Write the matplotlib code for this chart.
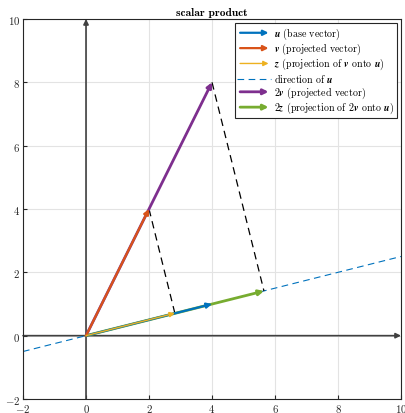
import matplotlib.pyplot as plt
from matplotlib.patches import FancyArrowPatch
from matplotlib.lines import Line2D
from matplotlib.legend_handler import HandlerPatch

plt.rcParams['mathtext.fontset'] = 'cm'
plt.rcParams['font.family'] = 'serif'
plt.rcParams['font.serif'] = ['cmr10']
plt.rcParams['axes.formatter.use_mathtext'] = True
plt.rcParams['axes.unicode_minus'] = False

# vectors
u = [4, 1]
v = [2, 4]
z = [2.82, 0.71]
v2 = [4, 8]
z2 = [5.65, 1.41]
dir_x = [-2, 10]
dir_y = [-0.5, 2.5]
ticks = [-2, 0, 2, 4, 6, 8, 10]

c_blue = '#0072BD'
c_orange = '#D95319'
c_yellow = '#EDB120'
c_purple = '#7E2F8E'
c_green = '#77AC30'
c_axis = '#262626'

fig = plt.figure(figsize=(4.06, 4.14), dpi=100)
ax = fig.add_axes([0.0567, 0.0338, 0.931, 0.918])


def arrow(tip, color, lw, ms=6, start=(0, 0), z_order=3):
    ax.annotate('', xy=tip, xytext=start,
                arrowprops=dict(arrowstyle='-|>,head_length=0.5,head_width=0.25',
                                color=color, lw=lw,
                                mutation_scale=ms, shrinkA=0, shrinkB=0),
                zorder=z_order)


# coordinate axes with arrow heads
arrow((10, 0), '#404040', 1.2, ms=6, start=(-2, 0), z_order=2)
arrow((0, 10), '#404040', 1.2, ms=6, start=(0, -2), z_order=2)

# direction of u
ax.plot(dir_x, dir_y, color=c_blue, lw=0.8, ls=(0, (6, 4)), zorder=2.5)

# projection lines
ax.plot([v[0], z[0]], [v[1], z[1]], color='k', lw=0.9, ls=(0, (6, 4)), zorder=2.5)
ax.plot([v2[0], z2[0]], [v2[1], z2[1]], color='k', lw=0.9, ls=(0, (6, 4)), zorder=2.5)

arrow(v2, c_purple, 2.0, z_order=3)
arrow(z2, c_green, 2.0, z_order=3.1)
arrow(u, c_blue, 1.6, z_order=3.2)
arrow(v, c_orange, 1.6, z_order=3.3)
arrow(z, c_yellow, 1.0, z_order=3.4)


def make_arrow(legend, orig_handle, xdescent, ydescent, width, height, fontsize):
    return FancyArrowPatch((-xdescent, height / 2), (width - xdescent, height / 2),
                           arrowstyle='-|>,head_length=0.5,head_width=0.25',
                           mutation_scale=6)


def arr_proxy(color, lw):
    return FancyArrowPatch((0, 0), (1, 0), color=color, lw=lw)


handles = [arr_proxy(c_blue, 1.6), arr_proxy(c_orange, 1.6), arr_proxy(c_yellow, 1.0),
           Line2D([], [], color=c_blue, lw=0.8, ls=(0, (6, 4))),
           arr_proxy(c_purple, 2.0), arr_proxy(c_green, 2.0)]
labels = [r'$\mathbfit{u}$ (base vector)',
          r'$\mathbfit{v}$ (projected vector)',
          r'$\mathbfit{z}$ (projection of $\mathbfit{v}$ onto $\mathbfit{u}$)',
          r'direction of $\mathbfit{u}$',
          r'2$\mathbfit{v}$ (projected vector)',
          r'2$\mathbfit{z}$ (projection of 2$\mathbfit{v}$ onto $\mathbfit{u}$)']
leg = ax.legend(handles, labels, loc='upper right', fontsize=7.2,
                handler_map={FancyArrowPatch: HandlerPatch(patch_func=make_arrow)},
                handlelength=3.4, handleheight=0.5, handletextpad=0.3,
                labelspacing=0.0, borderpad=0.25, borderaxespad=0.4,
                fancybox=False, framealpha=1, edgecolor=c_axis)
leg.get_frame().set_linewidth(0.8)

ax.set_xlim(-2, 10)
ax.set_ylim(-2, 10)
ax.set_xticks(ticks)
ax.set_yticks(ticks)
ax.grid(True, color='#e3e3e3', lw=0.8)
ax.set_axisbelow(True)
ax.tick_params(direction='in', length=3, labelsize=7.8, colors=c_axis, pad=2)
for s in ax.spines.values():
    s.set_color(c_axis)
    s.set_linewidth(0.8)
ax.set_title('scalar product', fontfamily='cmb10', fontsize=8.2, pad=3)

fig.savefig('out.png', dpi=100)
